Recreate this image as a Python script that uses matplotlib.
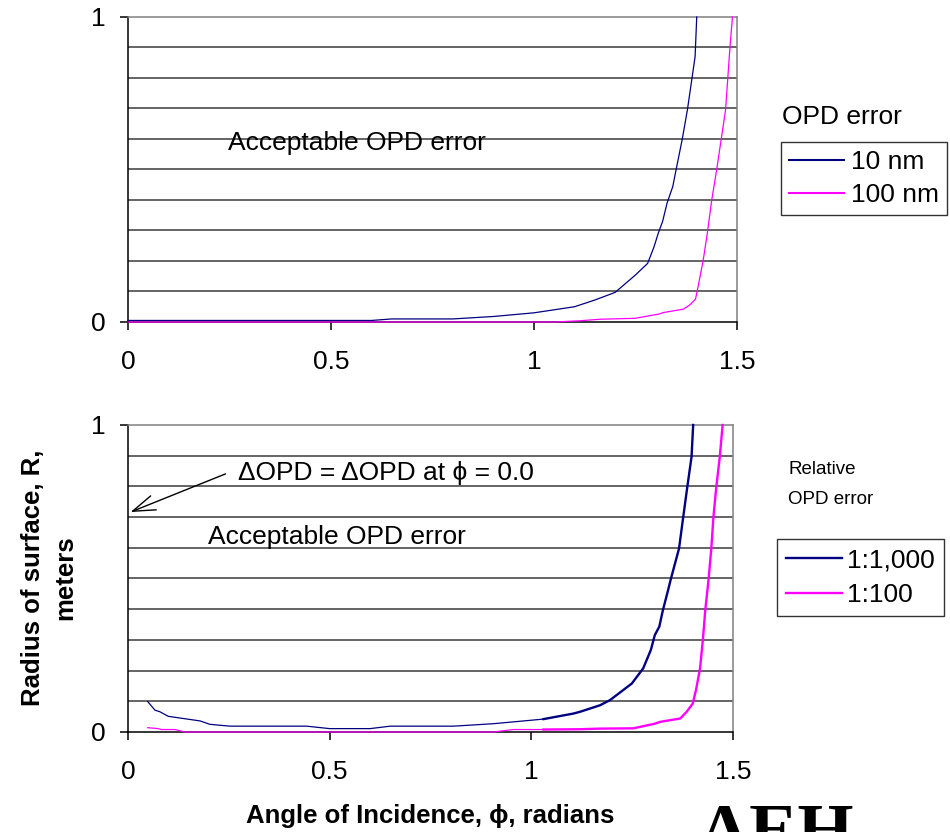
import numpy as np
import matplotlib
matplotlib.use('Agg')
import matplotlib.pyplot as plt

plt.rcParams['font.family'] = ['Liberation Sans', 'DejaVu Sans']

# top chart: absolute OPD error
top_10nm_x = [0, 0.6, 0.65, 0.8, 0.9, 1.0, 1.1, 1.15, 1.2, 1.25, 1.28, 1.296, 1.306, 1.317,
              1.328, 1.342, 1.35, 1.365, 1.378, 1.397, 1.401]
top_10nm_y = [0.005, 0.005, 0.01, 0.01, 0.018, 0.03, 0.05, 0.072, 0.097, 0.154, 0.192, 0.247,
              0.29, 0.33, 0.39, 0.444, 0.498, 0.597, 0.695, 0.87, 1.0]
top_100nm_x = [0, 1.05, 1.113, 1.163, 1.249, 1.308, 1.319, 1.368, 1.384, 1.398, 1.406, 1.417,
               1.427, 1.438, 1.45, 1.472, 1.483, 1.489]
top_100nm_y = [0, 0, 0.004, 0.009, 0.012, 0.026, 0.031, 0.042, 0.056, 0.075, 0.127, 0.203,
               0.29, 0.4, 0.498, 0.695, 0.903, 1.0]

# bottom chart: relative OPD error
bot_1000_x = [0.049, 0.067, 0.079, 0.1, 0.179, 0.203, 0.253, 0.443, 0.5, 0.6, 0.65, 0.807, 0.906,
              1.03, 1.104, 1.121, 1.17, 1.195, 1.249, 1.277, 1.296, 1.306, 1.317, 1.326, 1.339,
              1.345, 1.366, 1.376, 1.386, 1.397, 1.401]
bot_1000_y = [0.099, 0.071, 0.066, 0.051, 0.036, 0.025, 0.019, 0.019, 0.011, 0.011, 0.019, 0.019,
              0.027, 0.042, 0.06, 0.066, 0.087, 0.104, 0.158, 0.207, 0.267, 0.316, 0.343, 0.397,
              0.463, 0.495, 0.598, 0.697, 0.794, 0.897, 1.0]
bot_100_x = [0.049, 0.075, 0.083, 0.117, 0.141, 0.906, 0.955, 1.03, 1.121, 1.17, 1.253, 1.306,
             1.319, 1.369, 1.385, 1.4, 1.408, 1.418, 1.425, 1.431, 1.439, 1.446, 1.451, 1.458,
             1.467, 1.474]
bot_100_y = [0.014, 0.011, 0.008, 0.008, 0, 0, 0.008, 0.008, 0.009, 0.011, 0.012, 0.027, 0.033,
             0.044, 0.066, 0.093, 0.137, 0.207, 0.3, 0.397, 0.495, 0.598, 0.697, 0.794, 0.897, 1.0]

xticks = [0, 0.5, 1, 1.5]
xtick_labels = ['0', '0.5', '1', '1.5']
grid_levels = np.arange(1, 10) / 10

navy = '#000080'
magenta = '#FF00FF'
fs = 19

fig = plt.figure(figsize=(9.5, 8.32), dpi=100)
ax1 = fig.add_axes([0.1347, 0.6130, 0.641, 0.3666])
ax2 = fig.add_axes([0.1347, 0.1202, 0.637, 0.369])


def style(ax):
    ax.set_xlim(0, 1.5)
    ax.set_ylim(0, 1)
    ax.set_xticks(xticks)
    ax.set_xticklabels(xtick_labels)
    ax.set_yticks([0, 1])
    ax.set_yticklabels(['0', '1'])
    for g in grid_levels:
        ax.axhline(g, color='#3a3a3a', lw=1.1, zorder=1)
    ax.spines['top'].set_color('#808080')
    ax.spines['right'].set_color('#808080')
    ax.spines['left'].set_color('black')
    ax.spines['bottom'].set_color('black')
    for s in ax.spines.values():
        s.set_linewidth(1.1)
    ax.tick_params(axis='both', direction='out', length=6, width=1.1, labelsize=fs)
    ax.tick_params(axis='x', pad=14)
    ax.tick_params(axis='y', pad=10)


style(ax1)
style(ax2)

ax1.plot(top_10nm_x, top_10nm_y, color=navy, lw=0.9, label='10 nm', zorder=3, clip_on=False)
ax1.plot(top_100nm_x, top_100nm_y, color=magenta, lw=0.9, label='100 nm', zorder=3, clip_on=False)
ax1.text(0.246, 0.587, 'Acceptable OPD error', fontsize=fs, va='center')

# bottom lines are thin on the left, thicker from about 1.03
b1x, b1y = np.array(bot_1000_x), np.array(bot_1000_y)
b2x, b2y = np.array(bot_100_x), np.array(bot_100_y)
m1 = b1x <= 1.03
m2 = b2x <= 1.03
ax2.plot(b1x[m1], b1y[m1], color=navy, lw=0.9, zorder=3, clip_on=False)
ax2.plot(b1x[b1x >= 1.03], b1y[b1x >= 1.03], color=navy, lw=1.7, zorder=3, label='1:1,000',
         clip_on=False)
ax2.plot(b2x[m2], b2y[m2], color=magenta, lw=0.9, zorder=3, clip_on=False)
ax2.plot(b2x[b2x >= 1.03], b2y[b2x >= 1.03], color=magenta, lw=1.7, zorder=3, label='1:100',
         clip_on=False)
ax2.text(0.198, 0.635, 'Acceptable OPD error', fontsize=fs, va='center')
ax2.text(0.273, 0.844, '\u0394OPD = \u0394OPD at \u03d5 = 0.0', fontsize=fs, va='center')
ax2.annotate('', xy=(0, 0.713), xytext=(0.248, 0.844),
             arrowprops=dict(arrowstyle='->,head_length=0.9,head_width=0.3', lw=1,
                             color='black', mutation_scale=18),
             annotation_clip=False)

# legends and their titles
fig.text(0.823, 1 - 117 / 832, 'OPD error', fontsize=fs, va='center')
leg1 = ax1.legend(loc='upper left', bbox_to_anchor=(0.822, 1 - 142 / 832),
                  bbox_transform=fig.transFigure,
                  fontsize=fs, frameon=True, fancybox=False, edgecolor='black',
                  borderaxespad=0, handlelength=2.1, handletextpad=0.25,
                  borderpad=0.3, labelspacing=0.35)
leg1.get_frame().set_linewidth(1.0)
for h in leg1.get_lines():
    h.set_linewidth(1.5)

fig.text(0.830, 1 - 470 / 832, 'Relative', fontsize=13.5, va='center')
fig.text(0.830, 1 - 499 / 832, 'OPD error', fontsize=13.5, va='center')
leg2 = ax2.legend(loc='upper left', bbox_to_anchor=(0.818, 1 - 539 / 832),
                  bbox_transform=fig.transFigure,
                  fontsize=fs, frameon=True, fancybox=False, edgecolor='black',
                  borderaxespad=0, handlelength=2.1, handletextpad=0.2,
                  borderpad=0.35, labelspacing=0.4)
leg2.get_frame().set_linewidth(1.0)

# axis labels
fig.text(0.052, 1 - 578 / 832, 'Radius of surface, R,\nmeters', rotation=90, ha='center',
         va='center', multialignment='center', fontsize=18.5, fontweight='bold',
         linespacing=1.45)
fig.text((0.1347 + 0.7716) / 2, 1 - 816 / 832, 'Angle of Incidence, \u03d5, radians', ha='center',
         va='center', fontsize=18.5, fontweight='bold')

# logo at the bottom right, cut off by the figure edge
fig.text(0.734, -0.025, 'AEH', family='Liberation Serif', fontweight='bold', fontsize=52,
         va='baseline')

fig.savefig('out.png', dpi=100)
